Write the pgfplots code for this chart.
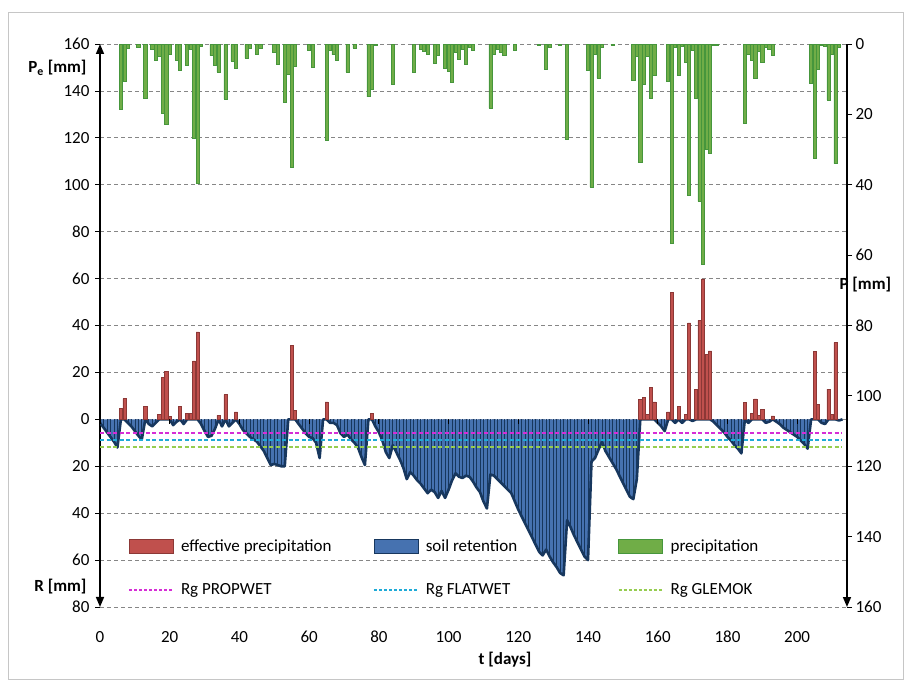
\documentclass[border=0pt]{standalone}
\usepackage{pgfplots}
\pgfplotsset{compat=1.18}
\usepackage{pgfplotstable}
\usepackage{fontspec}
\setmainfont{Carlito}
\usetikzlibrary{arrows.meta}

\definecolor{redfill}{RGB}{192,80,77}
\definecolor{redline}{RGB}{140,56,54}
\definecolor{bluefill}{RGB}{70,114,176}
\definecolor{blueline}{RGB}{23,55,94}
\definecolor{greenfill}{RGB}{112,173,71}
\definecolor{greenline}{RGB}{70,150,60}
\definecolor{gridgray}{RGB}{134,134,134}
\definecolor{propwet}{RGB}{214,45,214}
\definecolor{flatwet}{RGB}{30,170,215}
\definecolor{glemok}{RGB}{150,205,80}

\newcommand\f{\fontsize{17bp}{20bp}\selectfont}

\pgfplotsset{
  mybarlegend/.style={legend image code/.code={\draw[##1] (0bp,-7bp) rectangle (44bp,7bp);}},
}

% soil retention R (mm, plotted negative)
\pgfplotstableread{
d R
0 -1.5
1 -3.5
2 -5.5
3 -7.5
4 -9.5
5 -12
6 0
7 0
8 -1.5
9 -3
10 -5
11 -7
12 -8.5
13 0
14 -2
15 -3
16 -1.5
17 0
18 0
19 0
20 0
21 -2.5
22 -1
23 0
24 -2
25 0
26 0
27 0
28 0
29 -2
30 -5
31 -7.5
32 -7
33 -4
34 0
35 -3
36 0
37 -3
38 -1.5
39 0
40 -2
41 -4.5
42 -6
43 -7.5
44 -8.5
45 -9.5
46 -11.5
47 -13.5
48 -16.5
49 -19.5
50 -19
51 -19.5
52 -20
53 -20
54 0
55 0
56 0
57 -2
58 -4
59 -6
60 -7.5
61 -8
62 -10
63 -16.5
64 0
65 0
66 -1.5
67 -1.5
68 -2.5
69 -6
70 -7.5
71 -6.5
72 -8.5
73 -10
74 -12
75 -16
76 -19.5
77 0
78 0
79 -3
80 -5.5
81 -9
82 -14
83 -16.5
84 -11
85 -14
86 -17
87 -20.5
88 -25.5
89 -22.5
90 -24
91 -26
92 -27.5
93 -29.5
94 -31.5
95 -30
96 -31
97 -33.5
98 -30.5
99 -33.5
100 -30
101 -26
102 -23
103 -24.5
104 -25
105 -24
106 -24.5
107 -26.5
108 -29
109 -31
110 -35
111 -38
112 -23.5
113 -24
114 -25.5
115 -27
116 -28.5
117 -30
118 -31.5
119 -35
120 -38.5
121 -41.5
122 -44.5
123 -47.5
124 -50.5
125 -53.5
126 -56.5
127 -58
128 -55.5
129 -58.5
130 -61
131 -63
132 -65.5
133 -66.5
134 -43
135 -46
136 -49.5
137 -52.5
138 -55.5
139 -58.5
140 -60
141 -18
142 -16.5
143 -13
144 -9.5
145 -13.5
146 -16
147 -18.5
148 -21
149 -24
150 -27
151 -30
152 -33
153 -34
154 -25.5
155 0
156 0
157 0
158 0
159 0
160 -1.5
161 -3
162 -5
163 0
164 0
165 -1.5
166 0
167 -1.5
168 0
169 0
170 -0.7
171 0
172 0
173 0
174 0
175 0
176 -1
177 -2.5
178 -4
179 -5.5
180 -7.5
181 -9
182 -11
183 -12.5
184 -14.5
185 0
186 -1.5
187 0
188 0
189 0
190 0
191 -1.5
192 -1
193 0
194 -1
195 -2
196 -3.5
197 -4.5
198 -5.5
199 -6.5
200 -7.5
201 -9
202 -10.5
203 -12.5
204 0
205 0
206 0
207 -1.5
208 -2
209 0
210 0
211 0
212 -0.5
213 0
}\retention

% effective precipitation Pe (mm)
\pgfplotstableread{
d Pe
6 4.5
7 8.8
13 5.5
17 2.1
18 17.8
19 20.6
20 1.1
23 5.5
25 2.4
26 2.5
27 24.9
28 37.3
34 1.7
36 10.5
39 3.2
55 31.5
56 3.8
65 7.4
78 2.4
155 8.4
156 9.5
157 2.1
158 13.7
159 7.4
163 3.2
164 54.1
166 5.5
168 2
169 41.1
171 12.9
172 42.2
173 59.9
174 27.8
175 29.2
185 7.3
187 2.4
188 8.7
189 1.7
190 4.1
193 1.5
205 29
206 6.3
209 12.9
210 2.1
211 32.7
}\effective

% precipitation P (mm)
\pgfplotstableread{
d P
6 18.5
7 10.5
8 1.1
11 0.8
13 15.3
15 1.4
16 4.5
17 3.5
18 19.6
19 22.7
20 2.8
22 4.5
23 7.4
25 6
26 1.6
27 26.7
28 39.5
29 0.7
32 3.3
33 6
34 8
36 15.6
38 4.9
39 6.8
42 4
43 1.1
45 3
46 1.1
50 2.4
51 5.7
53 16.6
54 8.5
55 35
56 6.3
60 1.9
61 6.6
65 27.5
66 1.9
67 3
68 4.5
71 8
73 1.1
77 15
78 13
79 0.3
84 11.4
90 8
92 1.4
93 2.2
94 2.8
96 5.5
97 3.3
99 6.8
100 7.8
101 10.8
102 2.4
103 4.3
104 1.6
105 5.7
106 0.9
107 1.9
112 18.2
113 3
114 1.4
115 2.4
116 3.3
119 1.7
126 0.3
128 7.1
129 0.9
132 0.5
134 27
140 7.4
141 40.7
142 3
143 9.7
144 0.9
147 0.3
153 10.2
154 3.6
155 33.6
156 11.4
157 3.6
158 15.3
159 9
163 10.6
164 56.5
165 0.9
166 9
167 0.7
168 5.2
169 43
170 1.9
171 15.3
172 44.7
173 62.5
174 30
175 31.2
176 0.5
177 0.3
185 22.4
186 3
187 4.5
188 9.7
189 2.1
190 5.2
191 0.9
192 1.6
193 3.3
204 11.2
205 32.4
206 7.1
207 0.5
208 0.7
209 15.9
210 2.8
211 34
212 0.8
}\precip

\begin{document}
\begin{tikzpicture}
\path[use as bounding box] (0,0) rectangle (904bp,680bp);
\draw[gray!45, line width=0.8bp] (8bp,1bp) rectangle (903bp,668bp);
\begin{axis}[
  at={(100bp,73bp)}, anchor=south west,
  scale only axis, width=747bp, height=563bp,
  xmin=0, xmax=214.3, ymin=-80, ymax=160,
  axis x line*=bottom, axis y line*=left,
  x axis line style={draw=none},
  y axis line style={line width=1.6bp, black, {Triangle[width=8bp,length=10bp]}-{Triangle[width=8bp,length=10bp]}},
  xtick={0,20,...,200},
  xtick style={draw=none},
  xticklabel style={anchor=center, yshift=-25bp, font=\f},
  ytick={-80,-60,...,160},
  yticklabels={80,60,40,20,0,20,40,60,80,100,120,140,160},
  ytick style={black, line width=0.8bp},
  major tick length=5bp,
  tick align=outside,
  yticklabel style={font=\f, xshift=-2bp},
  /pgf/number format/assume math mode=true,
  ymajorgrids,
  major grid style={gridgray, line width=0.8bp, dash pattern=on 4bp off 3bp},
  legend columns=3,
  legend style={at={(0.0375,0.124)}, anchor=north west, draw=none, fill=none,
    inner sep=0pt, font=\f, row sep=27bp,
    /tikz/every odd column/.append style={column sep=5bp}},
]
\addplot[fill=bluefill, draw=none, forget plot] table[x=d, y=R] {\retention} \closedcycle;
\addplot[ycomb, blueline, line width=0.7bp, mark=none, forget plot] table[x=d, y=R] {\retention};
\addplot[sharp plot, blueline, line width=2.6bp, line join=round, mark=none, forget plot] table[x=d, y=R] {\retention};
\addplot[ybar, bar width=0.9, bar shift=0pt, fill=redfill, draw=redline, line width=0.6bp, forget plot] table[x=d, y=Pe] {\effective};
\addplot[propwet, line width=2bp, dash pattern=on 4bp off 2.5bp, forget plot] coordinates {(0,-6) (213,-6)};
\addplot[flatwet, line width=2bp, dash pattern=on 4bp off 2.5bp, forget plot] coordinates {(0,-8.6) (213,-8.6)};
\addplot[glemok, line width=2bp, dash pattern=on 4bp off 2.5bp, forget plot] coordinates {(0,-11.6) (213,-11.6)};
\pgfplotsinvokeforeach{0,20,...,200}{\draw[black, line width=0.8bp] (axis cs:#1,0) -- ([yshift=-5bp]axis cs:#1,0);}

\addlegendimage{mybarlegend, fill=redfill, draw=redline, line width=0.8bp}
\addlegendentry{\makebox[190bp][l]{effective precipitation}}
\addlegendimage{mybarlegend, fill=bluefill, draw=blueline, line width=0.8bp}
\addlegendentry{\makebox[190bp][l]{soil retention}}
\addlegendimage{mybarlegend, fill=greenfill, draw=greenline, line width=0.8bp}
\addlegendentry{\makebox[190bp][l]{precipitation}}
\addlegendimage{legend image code/.code={\draw[draw=propwet, line width=1.8bp, dash pattern=on 3bp off 2bp] (0bp,0bp) -- (44bp,0bp);}}
\addlegendentry{\makebox[190bp][l]{Rg PROPWET}}
\addlegendimage{legend image code/.code={\draw[draw=flatwet, line width=1.8bp, dash pattern=on 3bp off 2bp] (0bp,0bp) -- (44bp,0bp);}}
\addlegendentry{\makebox[190bp][l]{Rg FLATWET}}
\addlegendimage{legend image code/.code={\draw[draw=glemok, line width=1.8bp, dash pattern=on 3bp off 2bp] (0bp,0bp) -- (44bp,0bp);}}
\addlegendentry{\makebox[190bp][l]{Rg GLEMOK}}
\end{axis}

\begin{axis}[
  at={(100bp,73bp)}, anchor=south west,
  scale only axis, width=747bp, height=563bp,
  xmin=0, xmax=214.3, ymin=0, ymax=160, y dir=reverse,
  axis x line=none, axis y line*=right,
  y axis line style={line width=1.6bp, black, -{Triangle[width=8bp,length=10bp]}},
  ytick={0,20,...,160},
  ytick style={black, line width=0.8bp},
  major tick length=5bp, tick align=outside,
  yticklabel style={font=\f},
  /pgf/number format/assume math mode=true,
]
\addplot[ybar, bar width=0.9, bar shift=0pt, fill=greenfill, draw=greenline, line width=0.6bp] table[x=d, y=P] {\precip};
\end{axis}

\node[anchor=east, font=\f\bfseries] at (90bp,612bp) {P\textsubscript{e} [mm]};
\node[anchor=east, font=\f\bfseries] at (90bp,93bp) {R [mm]};
\node[anchor=west, font=\f\bfseries] at (836bp,395bp) {P [mm]};
\node[font=\f\bfseries] at (505bp,20bp) {t [days]};
\end{tikzpicture}
\end{document}
